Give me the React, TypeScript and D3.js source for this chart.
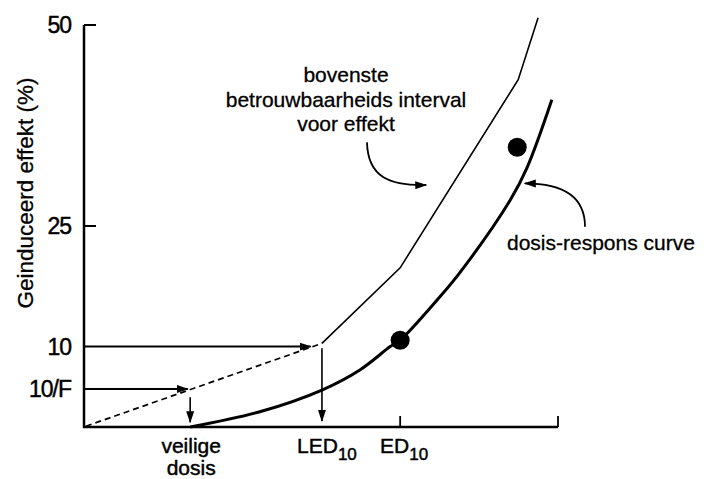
import React from "react";
import * as d3 from "d3";

// ---- data (dose in arbitrary units 0..100, effect in %) ----
const yTickValues = [50, 25, 10, 4.73];
const yTickLabels = ["50", "25", "10", "10/F"];
const safeDose = 22.4;
const ledDose = 50.2;
const edDose = 66.7;
const benchmarkEffect = 10;
const safeEffect = 4.73;

const responseDose = [22.4, 37.1, 50.2, 58.2, 64.6, 66.7, 74.5, 79.3, 89.9, 93.5, 98.7];
const responseEffect = [0, 1.9, 4.6, 7.1, 10.0, 10.8, 15.8, 19.2, 28.2, 32.3, 40.7];

const upperDashedDose = [0.4, 50.2];
const upperDashedEffect = [0.1, 10.4];
const upperDose = [50.2, 66.7, 91.6, 95.8];
const upperEffect = [10.4, 19.8, 43.2, 50.9];

const obsDose = [66.7, 91.4];
const obsEffect = [10.8, 34.8];

const W = 710;
const H = 479;
const FONT = "'Liberation Sans', Arial, Helvetica, sans-serif";

export default function App() {
  const x = d3.scaleLinear().domain([0, 100]).range([84, 558]);
  const y = d3.scaleLinear().domain([0, 50]).range([427, 25]);

  const toPts = (xs: number[], ys: number[]) => xs.map((d, i) => [d, ys[i]] as [number, number]);
  const line = d3.line<[number, number]>().x((d) => x(d[0])).y((d) => y(d[1]));
  const smooth = d3
    .line<[number, number]>()
    .x((d) => x(d[0]))
    .y((d) => y(d[1]))
    .curve(d3.curveCatmullRom.alpha(0.5));

  const x0 = x(0);
  const y0 = y(0);

  // curved annotation arrows
  const p1 = d3.path();
  p1.moveTo(x(59.7), y(35.4));
  p1.bezierCurveTo(x(59.9), y(31.0), x(64.6), y(30.0), x(72.2), y(30.1));
  const p2 = d3.path();
  p2.moveTo(x(105.7), y(24.9));
  p2.bezierCurveTo(x(105.7), y(28.9), x(100.4), y(30.3), x(93.0), y(30.3));

  const textStyle = { stroke: "#000", strokeWidth: 0.45 };

  return (
    <svg
      width={W}
      height={H}
      style={{ position: "absolute", left: 0, top: 0, background: "#fff" }}
      fontFamily={FONT}
    >
      <defs>
        <marker id="ah" viewBox="0 0 12 10" refX="11" refY="5" markerWidth="12" markerHeight="10" markerUnits="userSpaceOnUse" orient="auto">
          <path d="M0,1 L12,5 L0,9 Z" fill="#000" />
        </marker>
      </defs>
      <rect width={W} height={H} fill="#fff" />

      {/* axes */}
      <line x1={x0} y1={y(50)} x2={x0} y2={y0 + 1} stroke="#000" strokeWidth={2.5} />
      <line x1={x0 - 1} y1={y0} x2={x(100)} y2={y0} stroke="#000" strokeWidth={2.5} />
      <line x1={x(100)} y1={y0} x2={x(100)} y2={y0 - 11} stroke="#000" strokeWidth={1.8} />
      {[50, 25].map((v) => (
        <line key={v} x1={x0} x2={x0 + 12} y1={y(v)} y2={y(v)} stroke="#000" strokeWidth={2} />
      ))}
      <line x1={x(edDose)} x2={x(edDose)} y1={y0} y2={y0 - 11} stroke="#000" strokeWidth={1.8} />

      {/* y tick labels */}
      {yTickValues.map((v, i) => (
        <text key={i} x={71} y={y(v)} dy="0.36em" textAnchor="end" fontSize={23} letterSpacing={-1} fill="#000" style={textStyle}>
          {yTickLabels[i]}
        </text>
      ))}

      {/* y axis title */}
      <text
        transform={`translate(33,${193}) rotate(-90)`}
        textAnchor="middle"
        fontSize={22.5}
        fill="#000"
        style={{ stroke: "#000", strokeWidth: 0.3 }}
      >
        Geinduceerd effekt (%)
      </text>

      {/* upper confidence limit */}
      <path d={line(toPts(upperDashedDose, upperDashedEffect)) || ""} fill="none" stroke="#000" strokeWidth={1.7} strokeDasharray="6,4" />
      <path d={line(toPts(upperDose, upperEffect)) || ""} fill="none" stroke="#000" strokeWidth={1.6} />

      {/* dose-response curve */}
      <path d={smooth(toPts(responseDose, responseEffect)) || ""} fill="none" stroke="#000" strokeWidth={3} />

      {/* observations */}
      {obsDose.map((d, i) => (
        <circle key={i} cx={x(d)} cy={y(obsEffect[i])} r={9.5} fill="#000" />
      ))}

      {/* reference arrows */}
      <line x1={x0} y1={y(benchmarkEffect)} x2={x(47.8)} y2={y(benchmarkEffect)} stroke="#000" strokeWidth={2} markerEnd="url(#ah)" />
      <line x1={x0} y1={y(safeEffect)} x2={x(21.9)} y2={y(safeEffect)} stroke="#000" strokeWidth={2} markerEnd="url(#ah)" />
      <line x1={x(safeDose)} y1={y(3.7)} x2={x(safeDose)} y2={y(0.6)} stroke="#000" strokeWidth={1.6} markerEnd="url(#ah)" />
      <line x1={x(ledDose)} y1={y(9.8)} x2={x(ledDose)} y2={y(0.75)} stroke="#000" strokeWidth={1.6} markerEnd="url(#ah)" />

      {/* annotation arrows */}
      <path d={p1.toString()} fill="none" stroke="#000" strokeWidth={1.8} markerEnd="url(#ah)" />
      <path d={p2.toString()} fill="none" stroke="#000" strokeWidth={1.8} markerEnd="url(#ah)" />

      {/* annotation texts */}
      <text x={346} textAnchor="middle" fontSize={21} fill="#000" style={{ stroke: "#000", strokeWidth: 0.3 }}>
        <tspan x={346} y={82}>bovenste</tspan>
        <tspan x={346} y={107}>betrouwbaarheids interval</tspan>
        <tspan x={346} y={131}>voor effekt</tspan>
      </text>
      <text x={507} y={250} fontSize={21} fill="#000" style={{ stroke: "#000", strokeWidth: 0.3 }}>
        dosis-respons curve
      </text>

      {/* x labels */}
      <text textAnchor="middle" fontSize={21} fill="#000" style={textStyle}>
        <tspan x={x(safeDose) + 1} y={453}>veilige</tspan>
        <tspan x={x(safeDose) + 1} y={475}>dosis</tspan>
      </text>
      <text x={x(ledDose) + 5} y={453} textAnchor="middle" fontSize={21} fill="#000" style={textStyle}>
        LED<tspan fontSize={17} dy={7}>10</tspan>
      </text>
      <text x={x(edDose) + 4} y={453} textAnchor="middle" fontSize={21} fill="#000" style={textStyle}>
        ED<tspan fontSize={17} dy={7}>10</tspan>
      </text>
    </svg>
  );
}
